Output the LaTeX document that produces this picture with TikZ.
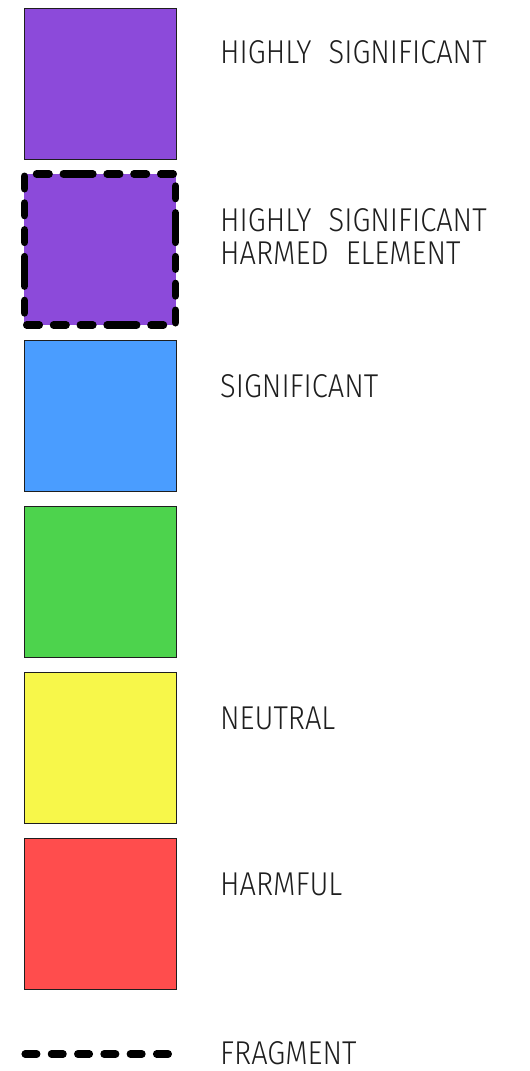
\documentclass[tikz,border=0pt]{standalone}
\usepackage{fontspec}
\setmainfont{Fira Sans}[UprightFont=* Light, FakeStretch=0.88, WordSpace=2.1]
\definecolor{ink}{HTML}{1E1E1E}
\definecolor{cpurple}{HTML}{8C4ADA}
\definecolor{cblue}{HTML}{4A9DFF}
\definecolor{cgreen}{HTML}{4DD34D}
\definecolor{cyellow}{HTML}{F7F74A}
\definecolor{cred}{HTML}{FF4D4D}
\tikzset{
  swatch/.style={draw=ink, line width=1pt},
  lbl/.style={anchor=west, inner sep=0pt, text=ink, align=left,
    font=\fontsize{33}{33}\selectfont},
  heavydash/.style={draw=black, line width=7.5pt, line cap=round, line join=miter}
}
\begin{document}
\begin{tikzpicture}[x=1pt,y=-1pt]
\useasboundingbox (0,0) rectangle (530,1071);
% swatches
\path[swatch, fill=cpurple] (24,8) rectangle (176,159.5);
\path[fill=cpurple] (24,174) rectangle (176,325);
\draw[heavydash,
  dash pattern={on 12.5pt off 14.3pt on 12.5pt off 14.3pt on 12.5pt off 14.3pt on 12.5pt off 14.3pt on 29.5pt off 14.3pt},
  dash phase=143.85pt]
  (100,174) -- (175.5,174) -- (175.5,325) -- (24.5,325) -- (24.5,174) -- cycle;
\path[swatch, fill=cblue] (24,340) rectangle (176,491.5);
\path[swatch, fill=cgreen] (24,506) rectangle (176,657.5);
\path[swatch, fill=cyellow] (24,672) rectangle (176,823.5);
\path[swatch, fill=cred] (24,838) rectangle (176,989.5);
% fragment line
\coordinate (f1) at (25.2,1054);
\coordinate (f2) at (169.5,1054);
\draw[heavydash, dash pattern={on 11.5pt off 14.8pt}] (f1) -- (f2);
% labels
\node[lbl] (l1) at (220,52) {HIGHLY SIGNIFICANT};
\node[lbl] (l2) at (220,236.5) {HIGHLY SIGNIFICANT\\HARMED ELEMENT};
\node[lbl] (l3) at (220,386) {SIGNIFICANT};
\node[lbl] (l5) at (220,718) {NEUTRAL};
\node[lbl] (l6) at (220,884) {HARMFUL};
\node[lbl] (l7) at (220,1053) {FRAGMENT};
\end{tikzpicture}
\end{document}
